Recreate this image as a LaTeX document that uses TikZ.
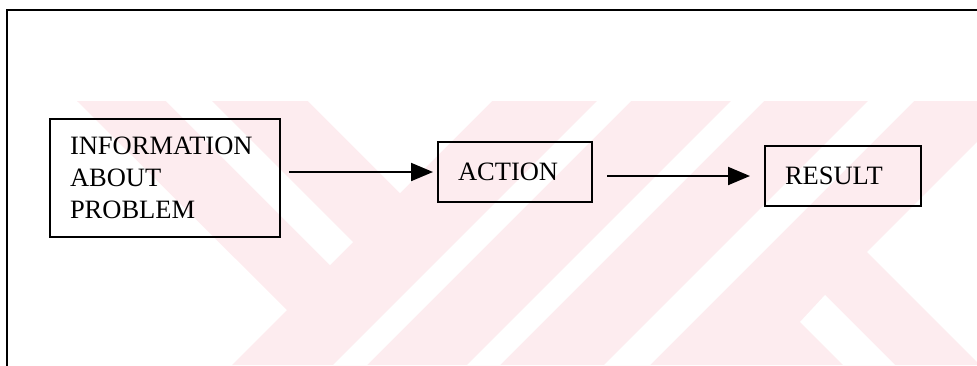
\documentclass[tikz,border=0pt]{standalone}
\usepackage{fontspec}
\setmainfont{Liberation Serif}
\usetikzlibrary{arrows.meta}
\definecolor{wmpink}{RGB}{253,236,239}

\begin{document}
\begin{tikzpicture}[x=1pt,y=-1pt,
  box/.style={draw, line width=2pt, align=left, inner xsep=20pt,
    font=\fontsize{26.5}{31.7}\selectfont},
  flow/.style={line width=2pt, -{Triangle[length=22pt,width=18pt]}}]
\useasboundingbox (0,0) rectangle (977,365);
% watermark in the background
\fill[wmpink] (77,101) -- (977,101) -- (977,365) -- (232,365) -- (287,310) -- cycle;
\fill[white] (166,101) -- (212,101) -- (353,242) -- (330,265) -- cycle;
\fill[white] (308,101) -- (492,101) -- (400,193) -- cycle;
\fill[white] (597,101) -- (631,101) -- (367,365) -- (333,365) -- cycle;
\fill[white] (731,101) -- (764,101) -- (500,365) -- (467,365) -- cycle;
\fill[white] (868,101) -- (914,101) -- (650,365) -- (604,365) -- cycle;
\fill[white] (800,322) -- (825,295) -- (895,365) -- (843,365) -- cycle;
\fill[white] (867,252) -- (977,142) -- (977,362) -- cycle;
% frame
\draw[line width=2pt] (7,366) -- (7,10) -- (978,10);
% boxes
\node[box, text width=190pt, minimum height=118pt] (info) at (165,178) {INFORMATION\\ABOUT\\PROBLEM};
\node[box, text width=114pt, minimum height=60pt] (action) at (515,172) {ACTION};
\node[box, text width=116pt, minimum height=60pt] (result) at (843,176) {RESULT};
% arrows
\draw[flow] ([xshift=8pt]info.east |- action.west) -- ([xshift=-4pt]action.west);
\draw[flow] ([xshift=14pt]action.east |- result.west) -- ([xshift=-14pt]result.west);
\end{tikzpicture}
\end{document}
